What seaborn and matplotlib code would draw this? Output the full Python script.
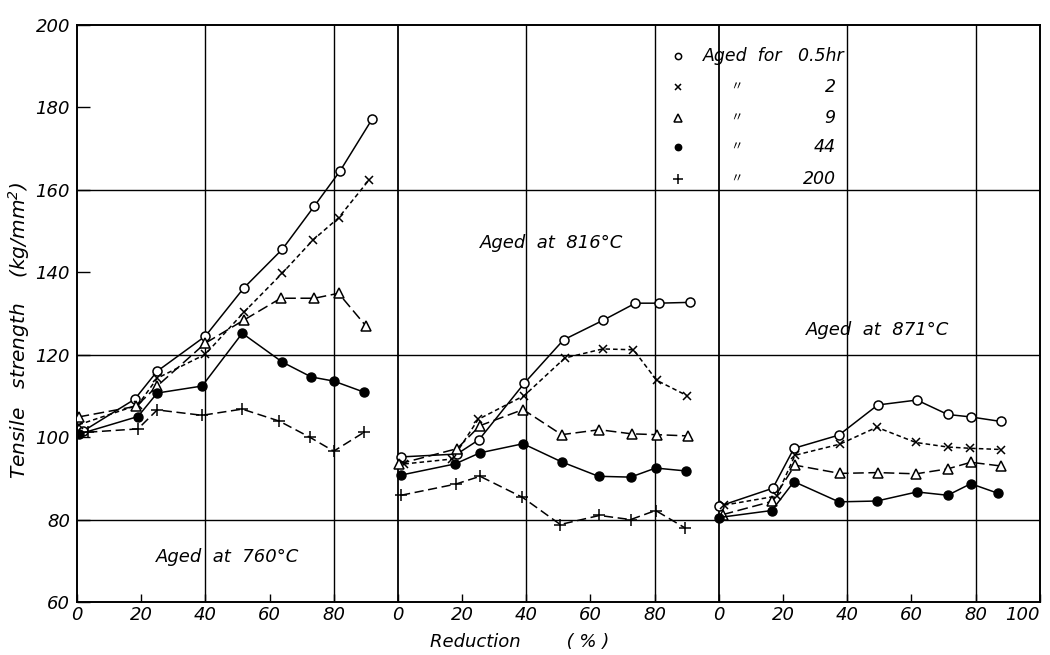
import matplotlib
matplotlib.use("Agg")
import matplotlib.pyplot as plt
import seaborn as sns
import pandas as pd

# ---- data: reduction (%) vs tensile strength (kg/mm^2) ----
temperatures = ["760", "816", "871"]
age_times = ["0.5hr", "2", "9", "44", "200"]

# Aged at 760 C
red_760_05 = [2, 18, 25, 40, 52, 64, 74, 82, 92]
ts_760_05 = [101.5, 109.2, 116.0, 124.5, 136.2, 145.6, 156.1, 164.6, 177.2]
red_760_2 = [0.5, 19, 25, 40, 52, 64, 73.5, 81.5, 91]
ts_760_2 = [103.0, 107.8, 114.3, 120.1, 130.3, 139.8, 147.8, 153.2, 162.4]
red_760_9 = [0.5, 18.5, 25, 40, 52, 63.5, 74, 81.5, 90]
ts_760_9 = [104.9, 107.5, 112.4, 122.8, 128.4, 133.7, 133.7, 134.9, 127.0]
red_760_44 = [0.5, 19, 25, 39, 51.5, 64, 73, 80, 89.5]
ts_760_44 = [100.7, 105.0, 110.7, 112.4, 125.2, 118.2, 114.6, 113.6, 110.9]
red_760_200 = [3.5, 19, 25, 39, 51.5, 63, 72.5, 80, 89.5]
ts_760_200 = [101.2, 102.0, 106.6, 105.3, 106.8, 103.9, 100.0, 96.6, 101.2]

# Aged at 816 C
red_816_05 = [1, 18.4, 25.3, 39.4, 51.6, 63.8, 74, 81.3, 91]
ts_816_05 = [95.2, 95.9, 99.4, 113.1, 123.6, 128.3, 132.5, 132.5, 132.7]
red_816_2 = [2, 17, 25, 39.4, 52, 63.8, 73.4, 80.6, 90]
ts_816_2 = [93.5, 94.7, 104.3, 110.1, 119.2, 121.4, 121.2, 113.8, 110.1]
red_816_9 = [0.3, 18.4, 25.6, 39, 51, 62.8, 72.8, 80.6, 90.3]
ts_816_9 = [93.5, 97.2, 102.8, 106.7, 100.6, 101.8, 100.8, 100.6, 100.3]
red_816_44 = [1, 17.8, 25.6, 39, 51, 62.5, 72.5, 80.3, 89.7]
ts_816_44 = [90.8, 93.5, 96.2, 98.4, 94.0, 90.5, 90.3, 92.5, 91.8]
red_816_200 = [1, 18, 25.6, 38.8, 50.6, 62.8, 72.5, 80.3, 89.4]
ts_816_200 = [85.9, 88.6, 90.5, 85.4, 78.8, 81.0, 80.0, 82.2, 78.0]

# Aged at 871 C (no 200 hr series)
red_871_05 = [0, 16.8, 23.4, 37.4, 49.5, 61.7, 71.3, 78.5, 87.9]
ts_871_05 = [83.2, 87.6, 97.3, 100.5, 107.8, 109.0, 105.5, 104.9, 103.8]
red_871_2 = [1.6, 18, 23.7, 37.7, 49.2, 61.4, 71.3, 78.2, 87.9]
ts_871_2 = [83.5, 85.7, 95.6, 98.3, 102.4, 98.7, 97.6, 97.3, 97.0]
red_871_9 = [1.2, 16.5, 23.7, 37.7, 49.5, 61.4, 71.3, 78.5, 87.9]
ts_871_9 = [81.2, 84.4, 93.2, 91.2, 91.4, 91.1, 92.3, 93.9, 93.0]
red_871_44 = [0, 16.5, 23.4, 37.4, 49.2, 61.7, 71.3, 78.5, 86.9]
ts_871_44 = [80.5, 82.2, 89.2, 84.3, 84.5, 86.7, 85.9, 88.7, 86.4]

x_tick_values = [0, 20, 40, 60, 80]
y_tick_values = [60, 80, 100, 120, 140, 160, 180, 200]

series = {
    ("760", "0.5hr"): (red_760_05, ts_760_05),
    ("760", "2"): (red_760_2, ts_760_2),
    ("760", "9"): (red_760_9, ts_760_9),
    ("760", "44"): (red_760_44, ts_760_44),
    ("760", "200"): (red_760_200, ts_760_200),
    ("816", "0.5hr"): (red_816_05, ts_816_05),
    ("816", "2"): (red_816_2, ts_816_2),
    ("816", "9"): (red_816_9, ts_816_9),
    ("816", "44"): (red_816_44, ts_816_44),
    ("816", "200"): (red_816_200, ts_816_200),
    ("871", "0.5hr"): (red_871_05, ts_871_05),
    ("871", "2"): (red_871_2, ts_871_2),
    ("871", "9"): (red_871_9, ts_871_9),
    ("871", "44"): (red_871_44, ts_871_44),
}

rows = []
for (temp, t), (reds, vals) in series.items():
    offset = 100 * temperatures.index(temp)
    for r, v in zip(reds, vals):
        rows.append({"temp": temp, "time": t, "reduction": r,
                     "pos": r + offset, "strength": v})
df = pd.DataFrame(rows)

# ---- style ----
sns.set_style("white")
plt.rcParams["font.family"] = ["DejaVu Sans", "Noto Sans CJK JP"]
plt.rcParams["font.style"] = "italic"
plt.rcParams["mathtext.default"] = "it"
for key in ("text.color", "axes.labelcolor", "xtick.color", "ytick.color",
            "xtick.labelcolor", "ytick.labelcolor"):
    plt.rcParams[key] = "black"

styles = {
    "0.5hr": dict(marker="o", mfc="white", ls="-", ms=6.5, mew=1.1),
    "2": dict(marker="x", mfc="black", ls=(0, (3, 2)), ms=5.5, mew=1.1),
    "9": dict(marker="^", mfc="white", ls=(0, (7, 3)), ms=6.5, mew=1.1),
    "44": dict(marker="o", mfc="black", ls="-", ms=6.5, mew=1.0),
    "200": dict(marker="+", mfc="black", ls=(0, (6, 3)), ms=8.5, mew=1.1),
}

fig = plt.figure(figsize=(10.5, 6.55), dpi=100)
ax = fig.add_axes([0.0733, 0.0809, 0.917, 0.881])

# frame and grid
for s in ax.spines.values():
    s.set_visible(True)
    s.set_color("black")
    s.set_linewidth(1.4)
for p in range(3):
    for g in (40, 80):
        ax.axvline(100 * p + g, color="black", lw=1.0, zorder=1)
    if p > 0:
        ax.axvline(100 * p, color="black", lw=1.3, zorder=1)
for g in (80, 120, 160):
    ax.axhline(g, color="black", lw=1.0, zorder=1)

# curves
for (temp, t), sub in df.groupby(["temp", "time"], sort=False):
    st = styles[t]
    sns.lineplot(data=sub, x="pos", y="strength", ax=ax, sort=False,
                 color="black", lw=1.1, linestyle=st["ls"],
                 marker=st["marker"], markersize=st["ms"],
                 markerfacecolor=st["mfc"], markeredgecolor="black",
                 markeredgewidth=st["mew"], zorder=3)

ax.set_xlim(0, 300)
ax.set_ylim(60, 200)

xt, xl = [], []
for p in range(3):
    for v in x_tick_values:
        xt.append(100 * p + v)
        xl.append(str(v))
xt.append(300)
xl.append("100")
ax.set_xticks(xt)
ax.set_xticklabels(xl)
ax.set_yticks(y_tick_values)
ax.set_yticklabels([str(v) for v in y_tick_values])
ax.tick_params(axis="x", direction="in", length=6, width=1.0, pad=3,
               labelsize=13, bottom=True)
ax.tick_params(axis="y", direction="in", length=9, width=1.0, pad=5,
               labelsize=13, left=True)
ax.get_xticklabels()[-1].set_horizontalalignment("right")

ax.set_xlabel("Reduction        ( % )", fontsize=13)
ax.xaxis.set_label_coords(0.46, -0.054)
ax.set_ylabel("Tensile   strength    (kg/mm$^2$)", fontsize=14.5)
ax.yaxis.set_label_coords(-0.047, 0.47)

# panel annotations
ax.text(47, 71, "Aged  at  760°C", fontsize=13, ha="center", va="center")
ax.text(148, 147.2, "Aged  at  816°C", fontsize=13, ha="center", va="center")
ax.text(249.5, 126.1, "Aged  at  871°C", fontsize=13, ha="center", va="center")

# key
key_rows = [0.946, 0.893, 0.839, 0.789, 0.733]
key_marks = [
    dict(marker="o", mfc="white", ms=4.5),
    dict(marker="x", mfc="black", ms=4.5),
    dict(marker="^", mfc="white", ms=5.5),
    dict(marker="o", mfc="black", ms=4.5),
    dict(marker="+", mfc="black", ms=7),
]
for yk, km, t in zip(key_rows, key_marks, age_times):
    ax.plot([0.624], [yk], transform=ax.transAxes, color="black",
            marker=km["marker"], mfc=km["mfc"], mec="black", ms=km["ms"],
            mew=1.1, ls="none", clip_on=False)
    if t == "0.5hr":
        ax.text(0.650, yk, "Aged  for   0.5hr", transform=ax.transAxes,
                fontsize=12.5, ha="left", va="center")
    else:
        ax.text(0.685, yk, "〃", transform=ax.transAxes, fontsize=9,
                ha="center", va="center")
        ax.text(0.788, yk, t, transform=ax.transAxes, fontsize=12.5,
                ha="right", va="center")

fig.savefig("out.png", dpi=100, facecolor="white")
